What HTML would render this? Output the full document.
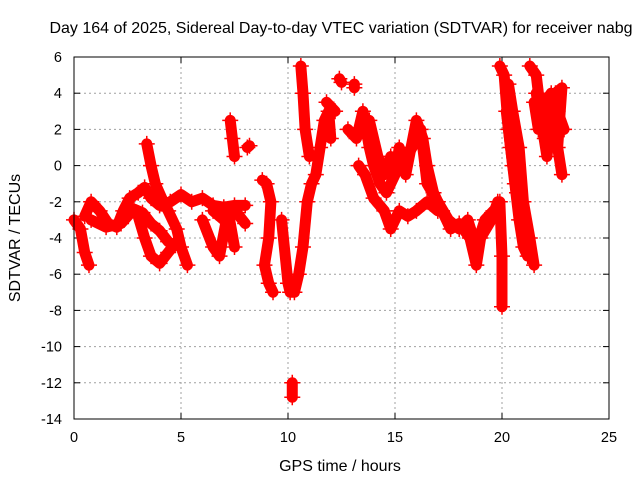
<!DOCTYPE html>
<html><head><meta charset="utf-8"><style>
body{margin:0;background:#fff}
svg{display:block;font-family:"Liberation Sans",sans-serif}
</style></head><body>
<svg id="c" width="640" height="480"></svg>
<script>
const xTicks=[0,5,10,15,20,25];
const yTicks=[6,4,2,0,-2,-4,-6,-8,-10,-12,-14];
const trackA1=[[0,-3],[0.3,-3.5],[0.5,-4.8],[0.7,-5.5]];
const trackA2=[[0.5,-2.8],[0.8,-2],[1.2,-2.5],[1.6,-3.2],[2,-3.4],[2.3,-2.5],[2.6,-1.8],[3,-1.5],[3.3,-1.2],[3.6,-1.8],[4,-2.2],[4.5,-2],[5,-1.6],[5.5,-2],[6,-1.8],[6.5,-2.2],[7,-2.3],[7.5,-2.2],[8,-2.2]];
const trackA2b=[[0.8,-3],[1.5,-3.4],[2.2,-3.2],[2.8,-2.4],[3.2,-2.6],[3.6,-3.2],[4,-3.6],[4.4,-4.2]];
const trackA3=[[3.4,1.2],[3.6,0],[3.8,-1],[4.1,-1.8],[4.4,-2.5],[4.8,-3.5],[5,-4.5],[5.3,-5.5]];
const trackA4=[[3,-2.8],[3.3,-4],[3.6,-5],[4,-5.4],[4.4,-4.8],[4.8,-4.2]];
const trackA5=[[6,-3],[6.5,-4.5],[6.8,-5],[7.2,-2.5],[7.5,-4.5]];
const trackA6=[[6.5,-2.5],[7,-3],[7.6,-2.6],[8,-3.2]];
const spikeA=[[7.3,2.5],[7.4,1.5],[7.5,0.5]];
const spikeA2=[[8.1,1],[8.2,1.1]];
const trackB=[[8.8,-0.8],[9,-1],[9.2,-2],[9.1,-4],[8.9,-5.5],[9.1,-6.5],[9.3,-7]];
const trackC=[[9.7,-3],[10,-6.5],[10.1,-7],[10.3,-7],[10.5,-6],[10.7,-4.5],[10.9,-2],[11.1,-1],[11.3,-0.5],[11.5,1],[11.7,2.5],[11.9,3],[12,1.5]];
const spikeC=[[10.2,-12],[10.2,-12.8]];
const trackC2=[[10.6,5.5],[10.7,4],[10.8,2],[11,0.5]];
const trackC3=[[11.8,3.5],[12.2,3]];
const trackC4=[[12.4,4.8],[12.5,4.6]];
const trackC5=[[13.1,4.5],[13.1,4.3]];
const trackD=[[12.8,2],[13.2,1.5],[13.5,3],[13.8,1],[14,0],[14.3,-1],[14.6,-1.5],[15,-0.5],[15.2,1],[15.5,-0.5],[16,2.5],[16.3,1.5],[16.5,0],[16.8,-1.5],[17.2,-2.5],[17.6,-3.5],[18,-3.2],[18.5,-4],[18.8,-5.5],[19,-4],[19.5,-3],[19.8,-2]];
const trackD2=[[13.3,0],[13.6,-0.5],[14,-1.8],[14.5,-2.5],[14.8,-3.5],[15.2,-2.5],[15.6,-2.8],[16,-2.5],[16.5,-2],[17,-2.5]];
const trackD3=[[13.5,2],[13.8,2.5],[14.2,0.5],[14.5,-0.5],[14.8,0.5],[15.3,0],[15.8,1],[16.2,2],[16.5,-1],[17,-2],[17.5,-3],[18,-3.5],[18.4,-3],[18.8,-4.5],[19.2,-3],[19.6,-2.5]];
const trackE=[[19.9,5.5],[20.1,5],[20.3,2],[20.5,0],[20.7,-1.5],[20.9,-3]];
const trackE2=[[19.9,-2],[20,-5],[20,-7.8]];
const trackE3=[[20.3,4.5],[20.5,3],[20.8,1],[21,-2],[21.3,-4],[21.5,-5.5]];
const trackE4=[[20.2,3],[20.4,1],[20.6,-1],[20.8,-3],[21,-4.5],[21.2,-5]];
const trackF=[[21.3,5.5],[21.6,5],[21.8,3],[22,1.5],[22.2,3],[22.5,4],[22.8,4.3],[22.6,1],[22.8,-0.5]];
const trackF2=[[21.6,4],[21.9,2],[22.1,0.5],[22.3,2.5],[22.6,3],[22.9,2]];
const trackF3=[[21.5,3.5],[21.7,2],[22,3.5],[22.3,4],[22.7,2]];
const tracks=[trackA1,trackA2,trackA2b,trackA3,trackA4,trackA5,trackA6,spikeA,spikeA2,trackB,trackC,spikeC,trackC2,trackC3,trackC4,trackC5,trackD,trackD2,trackD3,trackE,trackE2,trackE3,trackE4,trackF,trackF2,trackF3];
const L=74,R=609,T=57,B=419;
const X=h=>L+h/25*(R-L), Y=v=>T+(6-v)/20*(B-T);
const svg=document.getElementById('c');const NS='http://www.w3.org/2000/svg';
function el(t,a,p){const e=document.createElementNS(NS,t);for(const k in a)e.setAttribute(k,a[k]);(p||svg).appendChild(e);return e;}
const g=el('g',{});


xTicks.forEach(t=>{
 if(t>0&&t<25){el('line',{x1:X(t),x2:X(t),y1:T,y2:B,stroke:'#a0a0a0','stroke-dasharray':'2,3'},g);}
 const tx=el('text',{x:X(t),y:B+23,'font-size':14.5,'text-anchor':'middle'});tx.textContent=t;
 
 
 el('line',{x1:X(t),x2:X(t),y1:B,y2:B-6,stroke:'#000'});el('line',{x1:X(t),x2:X(t),y1:T,y2:T+6,stroke:'#000'});
});
yTicks.forEach(t=>{
 if(t<6&&t>-14)el('line',{x1:L,x2:R,y1:Y(t),y2:Y(t),stroke:'#a0a0a0','stroke-dasharray':'2,3'},g);
 const tx=el('text',{x:L-12,y:Y(t)+5,'font-size':14.5,'text-anchor':'end'});tx.textContent=t;
 
 
 el('line',{x1:L,x2:L+6,y1:Y(t),y2:Y(t),stroke:'#000'});el('line',{x1:R,x2:R-6,y1:Y(t),y2:Y(t),stroke:'#000'});
});
const d=el('g',{});


tracks.forEach(tr=>{
 const pl=el('polyline',{points:tr.map(p=>X(p[0])+','+Y(p[1])).join(' '),fill:'none',stroke:'#f00','stroke-width':11,'stroke-linejoin':'round','stroke-linecap':'round'},d);
 
 tr.forEach(p=>{const x=X(p[0]),y=Y(p[1]);
  const m=el('path',{d:`M${x-8},${y}h16M${x},${y-8}v16`,stroke:'#f00','stroke-width':1.5},d);
  
 });
});
const fr=el('rect',{x:L,y:T,width:R-L,height:B-T,fill:'none',stroke:'#000'});

const ti=el('text',{x:341,y:33,'font-size':16,'text-anchor':'middle'});ti.textContent='Day 164 of 2025, Sidereal Day-to-day VTEC variation (SDTVAR) for receiver nabg';


const xt=el('text',{x:340,y:471,'font-size':16,'text-anchor':'middle'});xt.textContent='GPS time / hours';


const yt=el('text',{x:0,y:0,'font-size':16,'text-anchor':'middle',transform:'translate(20,238) rotate(-90)'});yt.textContent='SDTVAR / TECUs';


</script>
</body></html>
